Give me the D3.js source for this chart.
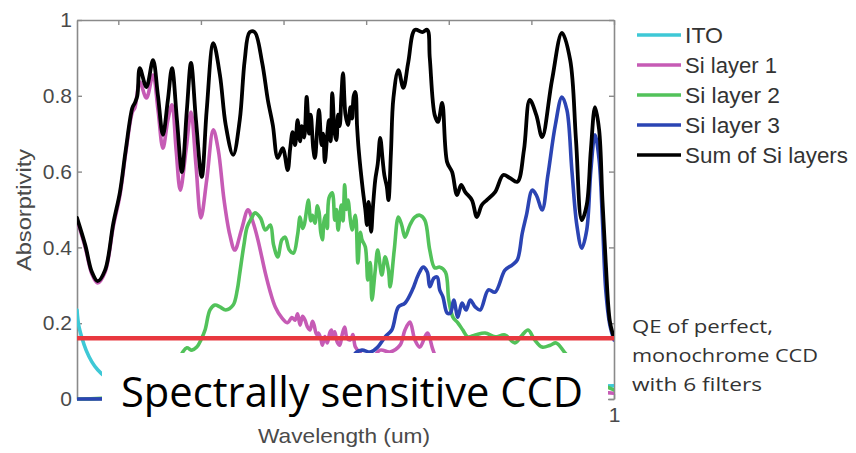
<!DOCTYPE html>
<html>
<head>
<meta charset="utf-8">
<script src="https://cdn.jsdelivr.net/npm/d3@7/dist/d3.min.js"></script>
<style>
  html, body { margin: 0; padding: 0; background: #fff; }
  svg { display: block; }
</style>
</head>
<body>
<svg id="chart" width="856" height="453"></svg>
<script>
// ---------------- DATA ----------------
const seriesNames = ["ITO", "Si layer 1", "Si layer 2", "Si layer 3", "Sum of Si layers"];
const yTicks = [0, 0.2, 0.4, 0.6, 0.8, 1];
const yTickLabels = ["0", "0.2", "0.4", "0.6", "0.8", "1"];
const xTicks = [0.4, 0.5, 0.6, 0.7, 0.8, 0.9, 1.0];
const xTickLabels = ["0.4", "0.5", "0.6", "0.7", "0.8", "0.9", "1"];
const qeLevel = 0.16;

const itoX = [0.350, 0.352, 0.356, 0.361, 0.368, 0.375, 0.383, 0.40, 0.45, 0.55, 0.70, 0.90, 1.00];
const itoY = [0.235, 0.195, 0.161, 0.129, 0.098, 0.077, 0.061, 0.045, 0.030, 0.020, 0.020, 0.030, 0.035];

const si1X = [0.350,0.360,0.368,0.375,0.384,0.394,0.402,0.409,0.417,0.420,0.426,0.434,0.442,0.448,0.454,0.460,0.465,0.470,0.475,0.482,0.488,0.494,0.500,0.507,0.515,0.521,0.528,0.535,0.541,0.549,0.557,0.563,0.569,0.578,0.584,0.590,0.598,0.605,0.610,0.614,0.617,0.620,0.623,0.626,0.629,0.632,0.635,0.637,0.640,0.642,0.645,0.647,0.650,0.653,0.656,0.658,0.660,0.662,0.665,0.668,0.671,0.674,0.677,0.681,0.684,0.687,0.695,0.705,0.717,0.729,0.741,0.747,0.753,0.759,0.765,0.774,0.781,0.789,0.814,0.862,0.923,1.000];
const si1Y = [0.472,0.400,0.330,0.306,0.335,0.456,0.538,0.649,0.757,0.768,0.836,0.794,0.855,0.763,0.662,0.736,0.776,0.657,0.551,0.657,0.757,0.617,0.478,0.578,0.710,0.657,0.525,0.433,0.393,0.446,0.499,0.467,0.420,0.332,0.282,0.243,0.214,0.201,0.215,0.208,0.225,0.195,0.218,0.208,0.190,0.182,0.205,0.195,0.170,0.174,0.160,0.142,0.165,0.148,0.175,0.182,0.160,0.177,0.150,0.142,0.170,0.190,0.160,0.156,0.170,0.137,0.116,0.103,0.129,0.124,0.142,0.182,0.203,0.156,0.137,0.174,0.129,0.090,0.063,0.045,0.030,0.015];

const si2X = [0.350,0.400,0.430,0.450,0.470,0.478,0.483,0.489,0.495,0.500,0.505,0.511,0.517,0.523,0.530,0.539,0.544,0.547,0.552,0.556,0.562,0.565,0.572,0.578,0.584,0.588,0.593,0.598,0.602,0.607,0.612,0.617,0.620,0.623,0.625,0.628,0.630,0.633,0.635,0.638,0.641,0.643,0.645,0.647,0.649,0.651,0.653,0.655,0.659,0.662,0.664,0.666,0.668,0.670,0.672,0.674,0.676,0.678,0.681,0.683,0.687,0.690,0.693,0.695,0.699,0.702,0.705,0.707,0.711,0.714,0.719,0.723,0.727,0.729,0.734,0.739,0.743,0.747,0.753,0.759,0.765,0.771,0.777,0.783,0.789,0.796,0.800,0.805,0.811,0.817,0.823,0.832,0.844,0.856,0.868,0.880,0.889,0.896,0.904,0.913,0.923,0.930,0.941,0.953,0.971,1.000];
const si2Y = [0.000,0.005,0.020,0.050,0.090,0.124,0.135,0.129,0.137,0.156,0.182,0.235,0.248,0.243,0.235,0.248,0.288,0.332,0.406,0.454,0.480,0.491,0.478,0.446,0.459,0.406,0.375,0.420,0.427,0.393,0.385,0.433,0.480,0.450,0.459,0.500,0.525,0.470,0.485,0.464,0.510,0.493,0.440,0.420,0.470,0.485,0.450,0.530,0.544,0.472,0.500,0.446,0.480,0.512,0.470,0.565,0.500,0.525,0.470,0.446,0.485,0.359,0.440,0.420,0.401,0.314,0.360,0.261,0.340,0.393,0.327,0.375,0.340,0.296,0.393,0.480,0.459,0.427,0.459,0.480,0.485,0.472,0.393,0.346,0.348,0.335,0.261,0.216,0.201,0.182,0.164,0.169,0.174,0.164,0.169,0.148,0.169,0.182,0.156,0.137,0.142,0.148,0.121,0.090,0.055,0.024];

const si3X = [0.350,0.500,0.600,0.650,0.680,0.687,0.695,0.705,0.714,0.723,0.731,0.739,0.747,0.756,0.763,0.769,0.774,0.777,0.782,0.786,0.789,0.793,0.798,0.802,0.806,0.811,0.816,0.821,0.826,0.832,0.838,0.848,0.856,0.868,0.877,0.883,0.889,0.894,0.901,0.906,0.913,0.920,0.929,0.937,0.943,0.949,0.955,0.961,0.967,0.972,0.977,0.982,0.986,0.990,0.995,1.000];
const si3Y = [0.000,0.005,0.020,0.050,0.090,0.121,0.129,0.124,0.137,0.164,0.182,0.243,0.253,0.288,0.327,0.348,0.335,0.296,0.319,0.322,0.288,0.269,0.227,0.227,0.261,0.216,0.253,0.235,0.261,0.243,0.235,0.288,0.282,0.340,0.354,0.367,0.438,0.485,0.551,0.538,0.499,0.591,0.723,0.797,0.763,0.604,0.459,0.398,0.446,0.604,0.697,0.631,0.472,0.288,0.195,0.156];

const sumX = [0.350,0.360,0.368,0.375,0.384,0.394,0.402,0.409,0.417,0.420,0.423,0.426,0.434,0.442,0.448,0.454,0.460,0.465,0.471,0.477,0.483,0.488,0.494,0.501,0.507,0.515,0.523,0.530,0.539,0.547,0.553,0.559,0.565,0.574,0.581,0.587,0.593,0.599,0.605,0.608,0.611,0.614,0.617,0.620,0.622,0.625,0.628,0.631,0.633,0.636,0.638,0.641,0.643,0.646,0.648,0.650,0.653,0.655,0.657,0.659,0.662,0.664,0.666,0.668,0.670,0.672,0.675,0.678,0.681,0.683,0.685,0.687,0.689,0.691,0.696,0.699,0.701,0.703,0.706,0.708,0.711,0.714,0.717,0.720,0.722,0.725,0.727,0.730,0.733,0.739,0.745,0.751,0.759,0.768,0.774,0.777,0.783,0.787,0.792,0.798,0.804,0.810,0.815,0.820,0.828,0.834,0.840,0.846,0.856,0.866,0.874,0.883,0.891,0.898,0.906,0.913,0.925,0.937,0.947,0.954,0.961,0.967,0.972,0.977,0.982,0.986,0.990,0.995,1.000];
const sumY = [0.478,0.406,0.335,0.311,0.340,0.464,0.546,0.657,0.768,0.781,0.800,0.873,0.823,0.894,0.800,0.697,0.789,0.873,0.736,0.599,0.763,0.887,0.736,0.586,0.763,0.939,0.855,0.723,0.644,0.736,0.894,0.968,0.968,0.889,0.789,0.723,0.636,0.662,0.604,0.660,0.704,0.670,0.736,0.680,0.720,0.690,0.797,0.700,0.750,0.660,0.636,0.720,0.763,0.670,0.700,0.625,0.700,0.736,0.680,0.807,0.700,0.683,0.750,0.720,0.800,0.860,0.750,0.723,0.770,0.740,0.800,0.810,0.720,0.657,0.551,0.500,0.459,0.520,0.441,0.500,0.578,0.620,0.689,0.630,0.591,0.560,0.525,0.650,0.794,0.868,0.821,0.889,0.974,0.968,0.974,0.900,0.749,0.731,0.781,0.625,0.599,0.538,0.565,0.546,0.525,0.480,0.512,0.525,0.546,0.591,0.583,0.573,0.657,0.789,0.749,0.691,0.842,0.966,0.894,0.683,0.472,0.512,0.657,0.770,0.710,0.525,0.360,0.205,0.161];

const seriesColors = ["#3ec8d6", "#c65bb5", "#52c25a", "#2b44b3", "#000000"];

// ---------------- LAYOUT ----------------
const svg = d3.select("#chart");
const x = d3.scaleLinear().domain([0.35, 1.0]).range([77, 614]);
const y = d3.scaleLinear().domain([0, 1]).range([399, 20]);

const axisColor = "#8a8a8a";
const textColor = "#4a4a4a";
const tickFont = "'Liberation Sans', Arial, sans-serif";

// white annotation box that hides most of the bottom axis labels
const box = {x0: 102, x1: 608, y0: 353, y1: 421};

const axG = svg.append("g");
const bottomAxis = d3.axisBottom(x).tickValues(xTicks).tickSizeInner(-5).tickSizeOuter(0)
  .tickFormat((d, i) => (x(d) > box.x1 ? xTickLabels[i] : "")).tickPadding(10);
const bAx = axG.append("g").attr("transform", "translate(0,399)").call(bottomAxis);
const leftAxis = d3.axisLeft(y).tickValues(yTicks).tickSizeInner(-5).tickSizeOuter(0)
  .tickFormat((d, i) => yTickLabels[i]).tickPadding(5);
const lAx = axG.append("g").attr("transform", "translate(77,0)").call(leftAxis);
const topAxis = d3.axisTop(x).tickValues(xTicks).tickSizeInner(-5).tickSizeOuter(0).tickFormat("");
const tAx = axG.append("g").attr("transform", "translate(0,20)").call(topAxis);
const rightAxis = d3.axisRight(y).tickValues(yTicks).tickSizeInner(-5).tickSizeOuter(0).tickFormat("");
const rAx = axG.append("g").attr("transform", "translate(614,0)").call(rightAxis);

[bAx, lAx, tAx, rAx].forEach(g => {
  g.select(".domain").attr("stroke", axisColor).attr("stroke-width", 1.6);
  g.selectAll(".tick line").attr("stroke", axisColor).attr("stroke-width", 1.4);
  g.selectAll(".tick text").attr("fill", textColor).style("font-family", tickFont).style("font-size", "21px");
});
bAx.selectAll(".tick text").attr("dy", "0.6em");

svg.append("text")
  .attr("transform", "translate(31,210) rotate(-90)")
  .attr("text-anchor", "middle")
  .attr("fill", textColor)
  .style("font-family", tickFont).style("font-size", "21px")
  .attr("textLength", 122).attr("lengthAdjust", "spacingAndGlyphs")
  .text("Absorptivity");
svg.append("text")
  .attr("x", 344).attr("y", 443)
  .attr("text-anchor", "middle")
  .attr("fill", textColor)
  .style("font-family", tickFont).style("font-size", "21px")
  .attr("textLength", 172).attr("lengthAdjust", "spacingAndGlyphs")
  .text("Wavelength (um)");

// ---------------- LINES ----------------
const seriesData = [
  d3.zip(itoX, itoY),
  d3.zip(si1X, si1Y),
  d3.zip(si2X, si2Y),
  d3.zip(si3X, si3Y),
  d3.zip(sumX, sumY)
];
const line = d3.line().x(d => x(d[0])).y(d => y(d[1])).curve(d3.curveCatmullRom.alpha(0.5));
svg.append("clipPath").attr("id", "plotclip")
  .append("rect").attr("x", 77).attr("y", 20).attr("width", 537).attr("height", 381);
const linesG = svg.append("g").attr("clip-path", "url(#plotclip)");
seriesData.forEach((data, i) => {
  linesG.append("path")
    .datum(data)
    .attr("d", line)
    .attr("fill", "none")
    .attr("stroke", seriesColors[i])
    .attr("stroke-width", i === 4 ? 3.8 : 3.6)
    .attr("stroke-linejoin", "round")
    .attr("stroke-linecap", "round");
});

svg.append("line")
  .attr("x1", x(0.35)).attr("x2", x(1.0))
  .attr("y1", y(qeLevel)).attr("y2", y(qeLevel))
  .attr("stroke", "#e8383f").attr("stroke-width", 4.5);

// ---------------- LEGEND ----------------
const legLens = [38, 92, 95, 95, 163];
const legG = svg.append("g");
seriesNames.forEach((name, i) => {
  const yy = 35 + i * 30;
  legG.append("line").attr("x1", 637).attr("x2", 681).attr("y1", yy).attr("y2", yy)
    .attr("stroke", seriesColors[i]).attr("stroke-width", 3.5);
  legG.append("text").attr("x", 685).attr("y", yy).attr("dy", "0.36em")
    .attr("fill", "#333")
    .style("font-family", tickFont).style("font-size", "22px")
    .attr("textLength", legLens[i]).attr("lengthAdjust", "spacingAndGlyphs")
    .text(name);
});

// ---------------- OVERLAY ANNOTATIONS ----------------
svg.append("rect").attr("x", box.x0).attr("y", box.y0)
  .attr("width", box.x1 - box.x0).attr("height", box.y1 - box.y0).attr("fill", "#fff");
svg.append("text")
  .attr("x", 121).attr("y", 407)
  .attr("fill", "#000")
  .style("font-family", "'Open Sans', 'Noto Sans', sans-serif").style("font-size", "42px")
  .attr("textLength", 462).attr("lengthAdjust", "spacingAndGlyphs")
  .text("Spectrally sensitive CCD");

const qeLines = ["QE of perfect,", "monochrome CCD", "with 6 filters"];
const qeLens = [141, 186, 130];
qeLines.forEach((t, i) => {
  svg.append("text")
    .attr("x", 632).attr("y", 333 + i * 29)
    .attr("fill", "#333")
    .style("font-family", "'Open Sans', 'Noto Sans', sans-serif").style("font-size", "19px")
    .attr("textLength", qeLens[i]).attr("lengthAdjust", "spacingAndGlyphs")
    .text(t);
});
</script>
</body>
</html>
